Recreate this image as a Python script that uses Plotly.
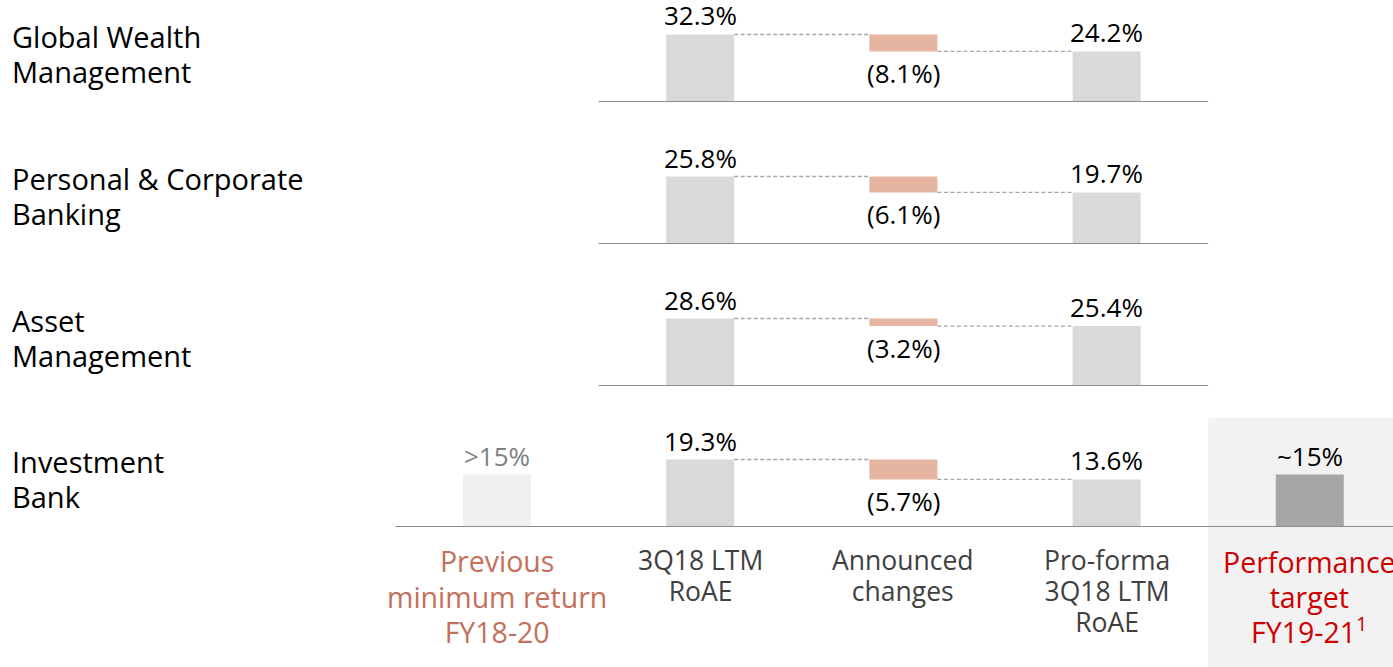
import plotly.graph_objects as go

# ---------------- data ----------------
categories = [["Previous", "minimum return", "FY18-20"],
              ["3Q18 LTM", "RoAE"],
              ["Announced", "changes"],
              ["Pro-forma", "3Q18 LTM", "RoAE"],
              ["Performance", "target", "FY19-21<sup>1</sup>"]]
divisions = [["Global Wealth", "Management"],
             ["Personal & Corporate", "Banking"],
             ["Asset", "Management"],
             ["Investment", "Bank"]]
ltm_roae = [32.3, 25.8, 28.6, 19.3]
announced_changes = [-8.1, -6.1, -3.2, -5.7]
proforma_roae = [24.2, 19.7, 25.4, 13.6]
previous_min_return = 15.0      # Investment Bank only
performance_target = 15.0       # Investment Bank only
prev_label = ">15%"
target_label = "~15%"

# ---------------- styling / layout helpers ----------------
W, H = 1393, 667
FONT = "Open Sans"
C_BAR = "#d9d9d9"
C_CHG = "#e5b5a2"
C_PREV = "#f0f0f0"
C_TGT = "#a6a6a6"
C_AXIS = "#8c8c8c"
C_DASH = "#a6a6a6"
C_TEXT = "#000000"
C_CAT = "#404040"
C_PREV_TXT = "#c4705a"
C_TGT_TXT = "#cc0000"

baseline_px = [102, 244, 386, 527]
panel_h_px = 100
bar_px = 67.5
x_center0_px, x_step_px = 497, 203.2
bar_w = 68 / x_step_px

x_pos = list(range(len(categories)))
x_range = [(0 - x_center0_px) / x_step_px, (W - x_center0_px) / x_step_px]


def py(px):
    """page pixel row -> paper y"""
    return 1 - px / H


def multiline(lines, glyph_px):
    """join lines; the annotation's base font sets line spacing, the span sets glyph size"""
    return "<br>".join(f"<span style='font-size:{glyph_px}px'>{ln}</span>" for ln in lines)


fig = go.Figure()
shapes, annots = [], []
VAL_FS = 26
DIV_FS, DIV_STEP = 29, 34.5

for i, div in enumerate(divisions):
    yname = "y" if i == 0 else f"y{i+1}"
    axname = "yaxis" if i == 0 else f"yaxis{i+1}"
    b = baseline_px[i]
    hp = min(panel_h_px, b)
    top_val = ltm_roae[i]
    ymax = top_val * hp / bar_px
    fig.update_layout(**{axname: dict(domain=[py(b), py(b - hp)],
                                     range=[0, ymax], visible=False, fixedrange=True)})
    chg = announced_changes[i]
    pf = proforma_roae[i]
    # bars
    fig.add_trace(go.Bar(x=[x_pos[1], x_pos[3]], y=[top_val, pf], width=bar_w,
                         marker=dict(color=C_BAR, line=dict(width=0)), yaxis=yname,
                         showlegend=False, hoverinfo="skip"))
    fig.add_trace(go.Bar(x=[x_pos[2]], y=[-chg], base=[pf], width=bar_w,
                         marker=dict(color=C_CHG, line=dict(width=0)), yaxis=yname,
                         showlegend=False, hoverinfo="skip"))
    if i == 3:
        fig.add_trace(go.Bar(x=[x_pos[0]], y=[previous_min_return], width=bar_w,
                             marker=dict(color=C_PREV, line=dict(width=0)), yaxis=yname,
                             showlegend=False, hoverinfo="skip"))
        fig.add_trace(go.Bar(x=[x_pos[4]], y=[performance_target], width=bar_w,
                             marker=dict(color=C_TGT, line=dict(width=0)), yaxis=yname,
                             showlegend=False, hoverinfo="skip"))
    # connectors
    shapes.append(dict(type="line", xref="x", yref=yname, x0=x_pos[1] + bar_w / 2, x1=x_pos[2] - bar_w / 2,
                       y0=top_val, y1=top_val, line=dict(color=C_DASH, width=1.3, dash="4px,2.5px")))
    shapes.append(dict(type="line", xref="x", yref=yname, x0=x_pos[2] + bar_w / 2, x1=x_pos[3] - bar_w / 2,
                       y0=pf, y1=pf, line=dict(color=C_DASH, width=1.3, dash="4px,2.5px")))
    # baseline
    if i < 3:
        x0, x1 = x_pos[0] + 0.5, x_pos[3] + 0.5
    else:
        x0, x1 = x_pos[0] - 0.5, x_pos[4] + 0.5
    shapes.append(dict(type="line", xref="x", yref=yname, x0=x0, x1=x1, y0=0, y1=0,
                       line=dict(color=C_AXIS, width=2)))
    # value labels
    annots.append(dict(x=x_pos[1], y=top_val, xref="x", yref=yname, text=f"{top_val:.1f}%",
                       showarrow=False, yanchor="middle", yshift=19, borderpad=0,
                       font=dict(family=FONT, size=VAL_FS, color=C_TEXT)))
    annots.append(dict(x=x_pos[3], y=pf, xref="x", yref=yname, text=f"{pf:.1f}%",
                       showarrow=False, yanchor="middle", yshift=19, borderpad=0,
                       font=dict(family=FONT, size=VAL_FS, color=C_TEXT)))
    annots.append(dict(x=x_pos[2], y=pf, xref="x", yref=yname, text=f"({-chg:.1f}%)",
                       showarrow=False, yanchor="middle", yshift=-22, borderpad=0,
                       font=dict(family=FONT, size=VAL_FS, color=C_TEXT)))
    if i == 3:
        annots.append(dict(x=x_pos[0], y=previous_min_return, xref="x", yref=yname, text=prev_label,
                           showarrow=False, yanchor="middle", yshift=19, borderpad=0,
                           font=dict(family=FONT, size=VAL_FS, color="#808080")))
        annots.append(dict(x=x_pos[4], y=performance_target, xref="x", yref=yname, text=target_label,
                           showarrow=False, yanchor="middle", yshift=19, borderpad=0,
                           font=dict(family=FONT, size=VAL_FS, color=C_TEXT)))
    # division label
    center = b - 65 + DIV_STEP * (len(div) - 1) / 2
    annots.append(dict(x=11 / W, y=py(center), xref="paper", yref="paper",
                       text=multiline(div, DIV_FS), borderpad=0,
                       showarrow=False, xanchor="left", yanchor="middle", align="left",
                       font=dict(family=FONT, size=DIV_STEP / 1.3, color=C_TEXT)))

# highlight rectangle for performance target
shapes.insert(0, dict(type="rect", xref="x", yref="paper", x0=x_pos[3] + 0.5, x1=x_pos[4] + 0.5,
                      y0=0, y1=py(418), fillcolor="#f2f2f2", line=dict(width=0), layer="below"))

# category labels
cat_colors = [C_PREV_TXT, C_CAT, C_CAT, C_CAT, C_TGT_TXT]
cat_sizes = [28.5, 26.5, 26.5, 26.5, 28.5]
cat_first = [561, 560, 560, 560, 562]
cat_step = [35.5, 31.2, 31.2, 31.2, 35]
for j, cat in enumerate(categories):
    center = cat_first[j] + cat_step[j] * (len(cat) - 1) / 2
    annots.append(dict(x=x_pos[j], y=py(center), xref="x", yref="paper",
                       text=multiline(cat, cat_sizes[j]), borderpad=0,
                       showarrow=False, yanchor="middle", align="center",
                       font=dict(family=FONT, size=cat_step[j] / 1.3, color=cat_colors[j])))

fig.update_layout(
    width=W, height=H, margin=dict(l=0, r=0, t=0, b=0),
    paper_bgcolor="white", plot_bgcolor="rgba(0,0,0,0)",
    barmode="overlay", showlegend=False,
    xaxis=dict(range=x_range, domain=[0, 1], visible=False, fixedrange=True),
    shapes=shapes, annotations=annots,
)

fig.write_html("out.html", config={"displayModeBar": False},
               post_script="document.body.style.margin='0';document.body.style.overflow='hidden';")
